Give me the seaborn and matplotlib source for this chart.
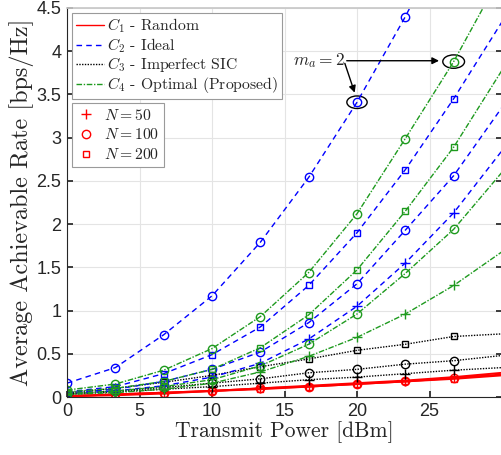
import numpy as np
import pandas as pd
import seaborn as sns
import matplotlib
matplotlib.use("Agg")
import matplotlib.pyplot as plt
from matplotlib.lines import Line2D
from matplotlib.patches import Ellipse

# ---------------- data ----------------
power = [0, 10/3, 20/3, 10, 40/3, 50/3, 20, 70/3, 80/3, 30]

# C1 - Random (red, solid)
c1_n50  = [0.01, 0.03, 0.05, 0.07, 0.10, 0.13, 0.16, 0.19, 0.23, 0.28]
c1_n100 = [0.01, 0.03, 0.05, 0.07, 0.10, 0.12, 0.15, 0.18, 0.22, 0.26]
c1_n200 = [0.01, 0.02, 0.04, 0.07, 0.09, 0.12, 0.15, 0.18, 0.21, 0.25]
# C2 - Ideal (blue, dashed)
c2_n50  = [0.04, 0.07, 0.13, 0.23, 0.39, 0.67, 1.05, 1.55, 2.13, 2.85]
c2_n100 = [0.05, 0.09, 0.18, 0.32, 0.52, 0.86, 1.31, 1.93, 2.56, 3.35]
c2_n200 = [0.06, 0.12, 0.27, 0.49, 0.81, 1.29, 1.90, 2.63, 3.45, 4.34]
c2_ma2  = [0.16, 0.34, 0.72, 1.17, 1.79, 2.54, 3.41, 4.40, 5.50, 6.70]
# C3 - Imperfect SIC (black, dotted)
c3_n50  = [0.03, 0.06, 0.09, 0.12, 0.16, 0.20, 0.23, 0.27, 0.31, 0.34]
c3_n100 = [0.04, 0.07, 0.11, 0.16, 0.21, 0.28, 0.32, 0.38, 0.42, 0.48]
c3_n200 = [0.05, 0.10, 0.17, 0.25, 0.35, 0.44, 0.54, 0.61, 0.70, 0.73]
# C4 - Optimal (green, dash-dot)
c4_n50  = [0.03, 0.05, 0.09, 0.16, 0.29, 0.47, 0.69, 0.96, 1.29, 1.68]
c4_n100 = [0.04, 0.07, 0.12, 0.20, 0.36, 0.61, 0.96, 1.43, 1.94, 2.60]
c4_n200 = [0.06, 0.10, 0.18, 0.32, 0.57, 0.95, 1.47, 2.15, 2.89, 3.78]
c4_ma2  = [0.08, 0.15, 0.31, 0.56, 0.93, 1.44, 2.12, 2.99, 3.88, 4.90]

scheme_labels = [r"$C_1$ - Random", r"$C_2$ - Ideal", r"$C_3$ - Imperfect SIC",
                 r"$C_4$ - Optimal (Proposed)"]
n_labels = [r"$N = 50$", r"$N = 100$", r"$N = 200$"]
xticks = [0, 5, 10, 15, 20, 25]
yticks = [0, 0.5, 1, 1.5, 2, 2.5, 3, 3.5, 4, 4.5]

# ---------------- style ----------------
sns.set_theme(style="whitegrid")
plt.rcParams['font.family'] = ['Liberation Sans', 'DejaVu Sans']
plt.rcParams['mathtext.fontset'] = 'cm'

SERIF = 'cmr10'
colors = {"C1": "#ff0000", "C2": "#0000ff", "C3": "#000000", "C4": "#1e9a1e"}
styles = {"C1": "-", "C2": (0, (4, 3)), "C3": (0, (1, 1)), "C4": (0, (4, 1.2, 1, 1.2))}
markers = {"N50": "+", "N100": "o", "N200": "s", "ma2": "o"}
msizes = {"+": 6.5, "o": 6, "s": 5}

curves = [
    ("C1", "N50", c1_n50), ("C1", "N100", c1_n100), ("C1", "N200", c1_n200),
    ("C3", "N50", c3_n50), ("C3", "N100", c3_n100), ("C3", "N200", c3_n200),
    ("C2", "N50", c2_n50), ("C2", "N100", c2_n100), ("C2", "N200", c2_n200), ("C2", "ma2", c2_ma2),
    ("C4", "N50", c4_n50), ("C4", "N100", c4_n100), ("C4", "N200", c4_n200), ("C4", "ma2", c4_ma2),
]

fig = plt.figure(figsize=(5.01, 4.55), dpi=100)
ax = fig.add_axes([67/501, 58/455, 435/501, 389/455])

for scheme, nn, vals in curves:
    df = pd.DataFrame({"x": power, "y": vals})
    m = markers[nn]
    sns.lineplot(data=df, x="x", y="y", ax=ax, color=colors[scheme],
                 linestyle=styles[scheme], linewidth=1.0 if scheme != "C1" else 1.4,
                 marker=m, markersize=msizes[m],
                 markerfacecolor="none", markeredgecolor=colors[scheme],
                 markeredgewidth=1.0, markevery=slice(0, 9), legend=False)

ax.set_xlim(0, 30)
ax.set_ylim(0, 4.5)
ax.set_xticks(xticks)
ax.set_yticks(yticks)
ax.set_yticklabels([f"{t:g}" for t in yticks])
ax.tick_params(axis='both', labelsize=13, colors="#262626", direction='in', length=4,
               left=True, bottom=True, right=True, top=False, pad=4)
ax.grid(True, color="#e4e4e4", linewidth=0.8)
for s in ["left", "bottom"]:
    ax.spines[s].set_color("#262626")
    ax.spines[s].set_linewidth(0.8)
ax.spines["top"].set_color("#c8c8c8")
ax.spines["right"].set_visible(False)
ax.set_facecolor("white")

ax.set_xlabel("Transmit Power [dBm]", fontfamily=SERIF, fontsize=15.5, labelpad=1)
ax.set_ylabel("Average Achievable Rate [bps/Hz]", fontfamily=SERIF, fontsize=17.5, labelpad=2)

# legend 1: schemes
h1 = [Line2D([], [], color=colors[k], linestyle=styles[k], linewidth=1.0)
      for k in ["C1", "C2", "C3", "C4"]]
leg1 = ax.legend(h1, scheme_labels, loc="upper left", bbox_to_anchor=(0.012, 0.988),
                 prop={'family': SERIF, 'size': 11.3}, handlelength=1.8, handletextpad=0.15,
                 borderpad=0.25, labelspacing=0.05, fancybox=False, edgecolor="#9a9a9a",
                 framealpha=1, borderaxespad=0)
leg1.get_frame().set_linewidth(0.8)
ax.add_artist(leg1)

h2 = [Line2D([], [], color="#ff0000", linestyle="none", marker=m, markersize=msizes[m],
             markerfacecolor="none", markeredgewidth=1.0) for m in ["+", "o", "s"]]
leg2 = ax.legend(h2, n_labels, loc="upper left", bbox_to_anchor=(0.012, 0.756),
                 prop={'family': SERIF, 'size': 11.3}, handlelength=1.2, handletextpad=0.5,
                 borderpad=0.3, labelspacing=0.3, fancybox=False, edgecolor="#9a9a9a",
                 framealpha=1, borderaxespad=0)
leg2.get_frame().set_linewidth(0.8)

# annotation m_a = 2
ax.add_patch(Ellipse((power[8], c4_ma2[8]), 1.5, 0.155, fill=False, edgecolor="black", lw=1.0))
ax.add_patch(Ellipse((power[6], c2_ma2[6]), 1.4, 0.145, fill=False, edgecolor="black", lw=1.0))
ax.text(15.6, 3.89, r"$m_a = 2$", fontsize=12.5, va="center", ha="left")
ax.annotate("", xy=(25.85, 3.89), xytext=(19.1, 3.89),
            arrowprops=dict(arrowstyle="-|>", color="black", lw=1.0, mutation_scale=10))
ax.annotate("", xy=(19.9, 3.49), xytext=(19.1, 3.89),
            arrowprops=dict(arrowstyle="-|>", color="black", lw=1.0, mutation_scale=10))

fig.savefig("out.png", dpi=100)
